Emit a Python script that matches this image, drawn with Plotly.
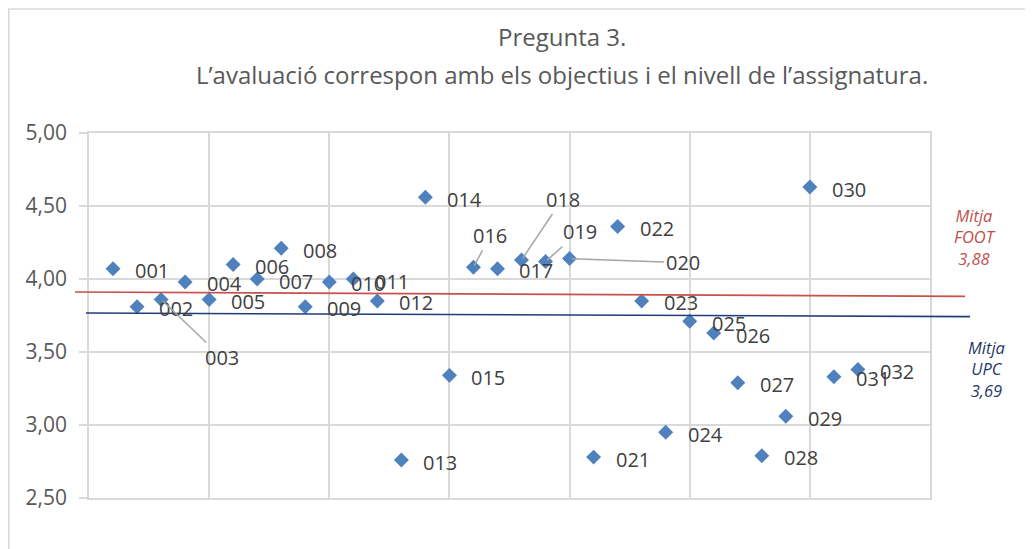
import plotly.graph_objects as go

# respostes per codi d'assignatura
codes = ['001', '002', '003', '004', '005', '006', '007', '008', '009', '010',
         '011', '012', '013', '014', '015', '016', '017', '018', '019', '020',
         '021', '022', '023', '024', '025', '026', '027', '028', '029', '030',
         '031', '032']
scores = [4.07, 3.81, 3.86, 3.98, 3.86, 4.10, 4.00, 4.21, 3.81, 3.98,
          4.00, 3.85, 2.76, 4.56, 3.34, 4.08, 4.07, 4.13, 4.12, 4.14,
          2.78, 4.36, 3.85, 2.95, 3.71, 3.63, 3.29, 2.79, 3.06, 4.63,
          3.33, 3.38]
positions = list(range(1, len(codes) + 1))

# linies de mitjana (inici, final)
foot_mean = [3.911, 3.881]
upc_mean = [3.767, 3.742]

# etiquetes amb linia guia: codi -> desplaçament (px)
leaders = {'003': (61, 58), '016': (17, -32), '018': (41, -61),
           '019': (34, -30), '020': (113, 4)}

grid = '#D9D9D9'
FONT = 'Open Sans, sans-serif'
label_font = dict(family=FONT, size=20, color='#404040')

fig = go.Figure()
fig.add_trace(go.Scatter(x=positions, y=scores, mode='markers',
                         marker=dict(symbol='diamond', size=11.5, color='#4F81BD'),
                         hoverinfo='text', text=codes, showlegend=False))

annotations = []
for x, y, c in zip(positions, scores, codes):
    if c in leaders:
        ax, ay = leaders[c]
        annotations.append(dict(x=x, y=y, xref='x', yref='y', text=c, font=label_font,
                                showarrow=True, arrowhead=0, arrowwidth=1.5,
                                arrowcolor='#A6A6A6', ax=ax, ay=ay, standoff=2))
    else:
        annotations.append(dict(x=x, y=y, xref='x', yref='y', text=c, font=label_font,
                                showarrow=False, xanchor='left', xshift=20, yshift=-2))

title_font = dict(family=FONT, size=24, color='#595959')
annotations += [
    dict(x=0.562, y=1.264, xref='paper', yref='paper', text='Pregunta 3.',
         xanchor='center', yanchor='middle', showarrow=False, font=title_font),
    dict(x=0.562, y=1.159, xref='paper', yref='paper',
         text='L’avaluació correspon amb els objectius i el nivell de l’assignatura.',
         xanchor='center', yanchor='middle', showarrow=False, font=title_font),
    dict(x=1.054, y=0.716, xref='paper', yref='paper',
         text='<i>Mitja<br>FOOT<br>' + f'{foot_mean[1]:.2f}'.replace('.', ',') + '</i>',
         xanchor='center', yanchor='middle', showarrow=False, align='center',
         font=dict(family=FONT, size=16.5, color='#C0504D')),
    dict(x=1.067, y=0.354, xref='paper', yref='paper',
         text='<i>Mitja<br>UPC<br>3,69</i>', showarrow=False, align='center',
         xanchor='center', yanchor='middle',
         font=dict(family=FONT, size=16.5, color='#1F3864')),
]

shapes = [
    dict(type='rect', xref='paper', yref='paper', x0=-0.0954, x1=1.131, y0=-0.169, y1=1.340,
         line=dict(color=grid, width=1.5), fillcolor='rgba(0,0,0,0)', layer='below'),
    dict(type='line', xref='paper', yref='y', x0=-0.0166, x1=1.0416,
         y0=foot_mean[0], y1=foot_mean[1], line=dict(color='#C9504D', width=1.6)),
    dict(type='line', xref='paper', yref='y', x0=-0.0036, x1=1.0476,
         y0=upc_mean[0], y1=upc_mean[1], line=dict(color='#1F3D7A', width=1.6)),
]

fig.update_layout(
    width=1033, height=549,
    margin=dict(l=81, r=111, t=125, b=59),
    paper_bgcolor='white', plot_bgcolor='white',
    separators=',.',
    annotations=annotations,
    shapes=shapes,
    xaxis=dict(range=[0, 35], dtick=5, tick0=0, showticklabels=False,
               showgrid=True, gridcolor=grid, gridwidth=1.5, zeroline=False,
               showline=True, linecolor=grid, linewidth=1.5, mirror=True, ticks=''),
    yaxis=dict(range=[2.5, 5], dtick=0.5, tickformat='.2f', showgrid=True,
               gridcolor=grid, gridwidth=1.5, zeroline=False,
               showline=True, linecolor=grid, linewidth=1.5, mirror=True,
               ticks='outside', ticklen=8, tickcolor=grid, tickwidth=1.5,
               ticklabelstandoff=8,
               tickfont=dict(family=FONT, size=21, color='#595959')),
)

fig.write_html("out.html")
